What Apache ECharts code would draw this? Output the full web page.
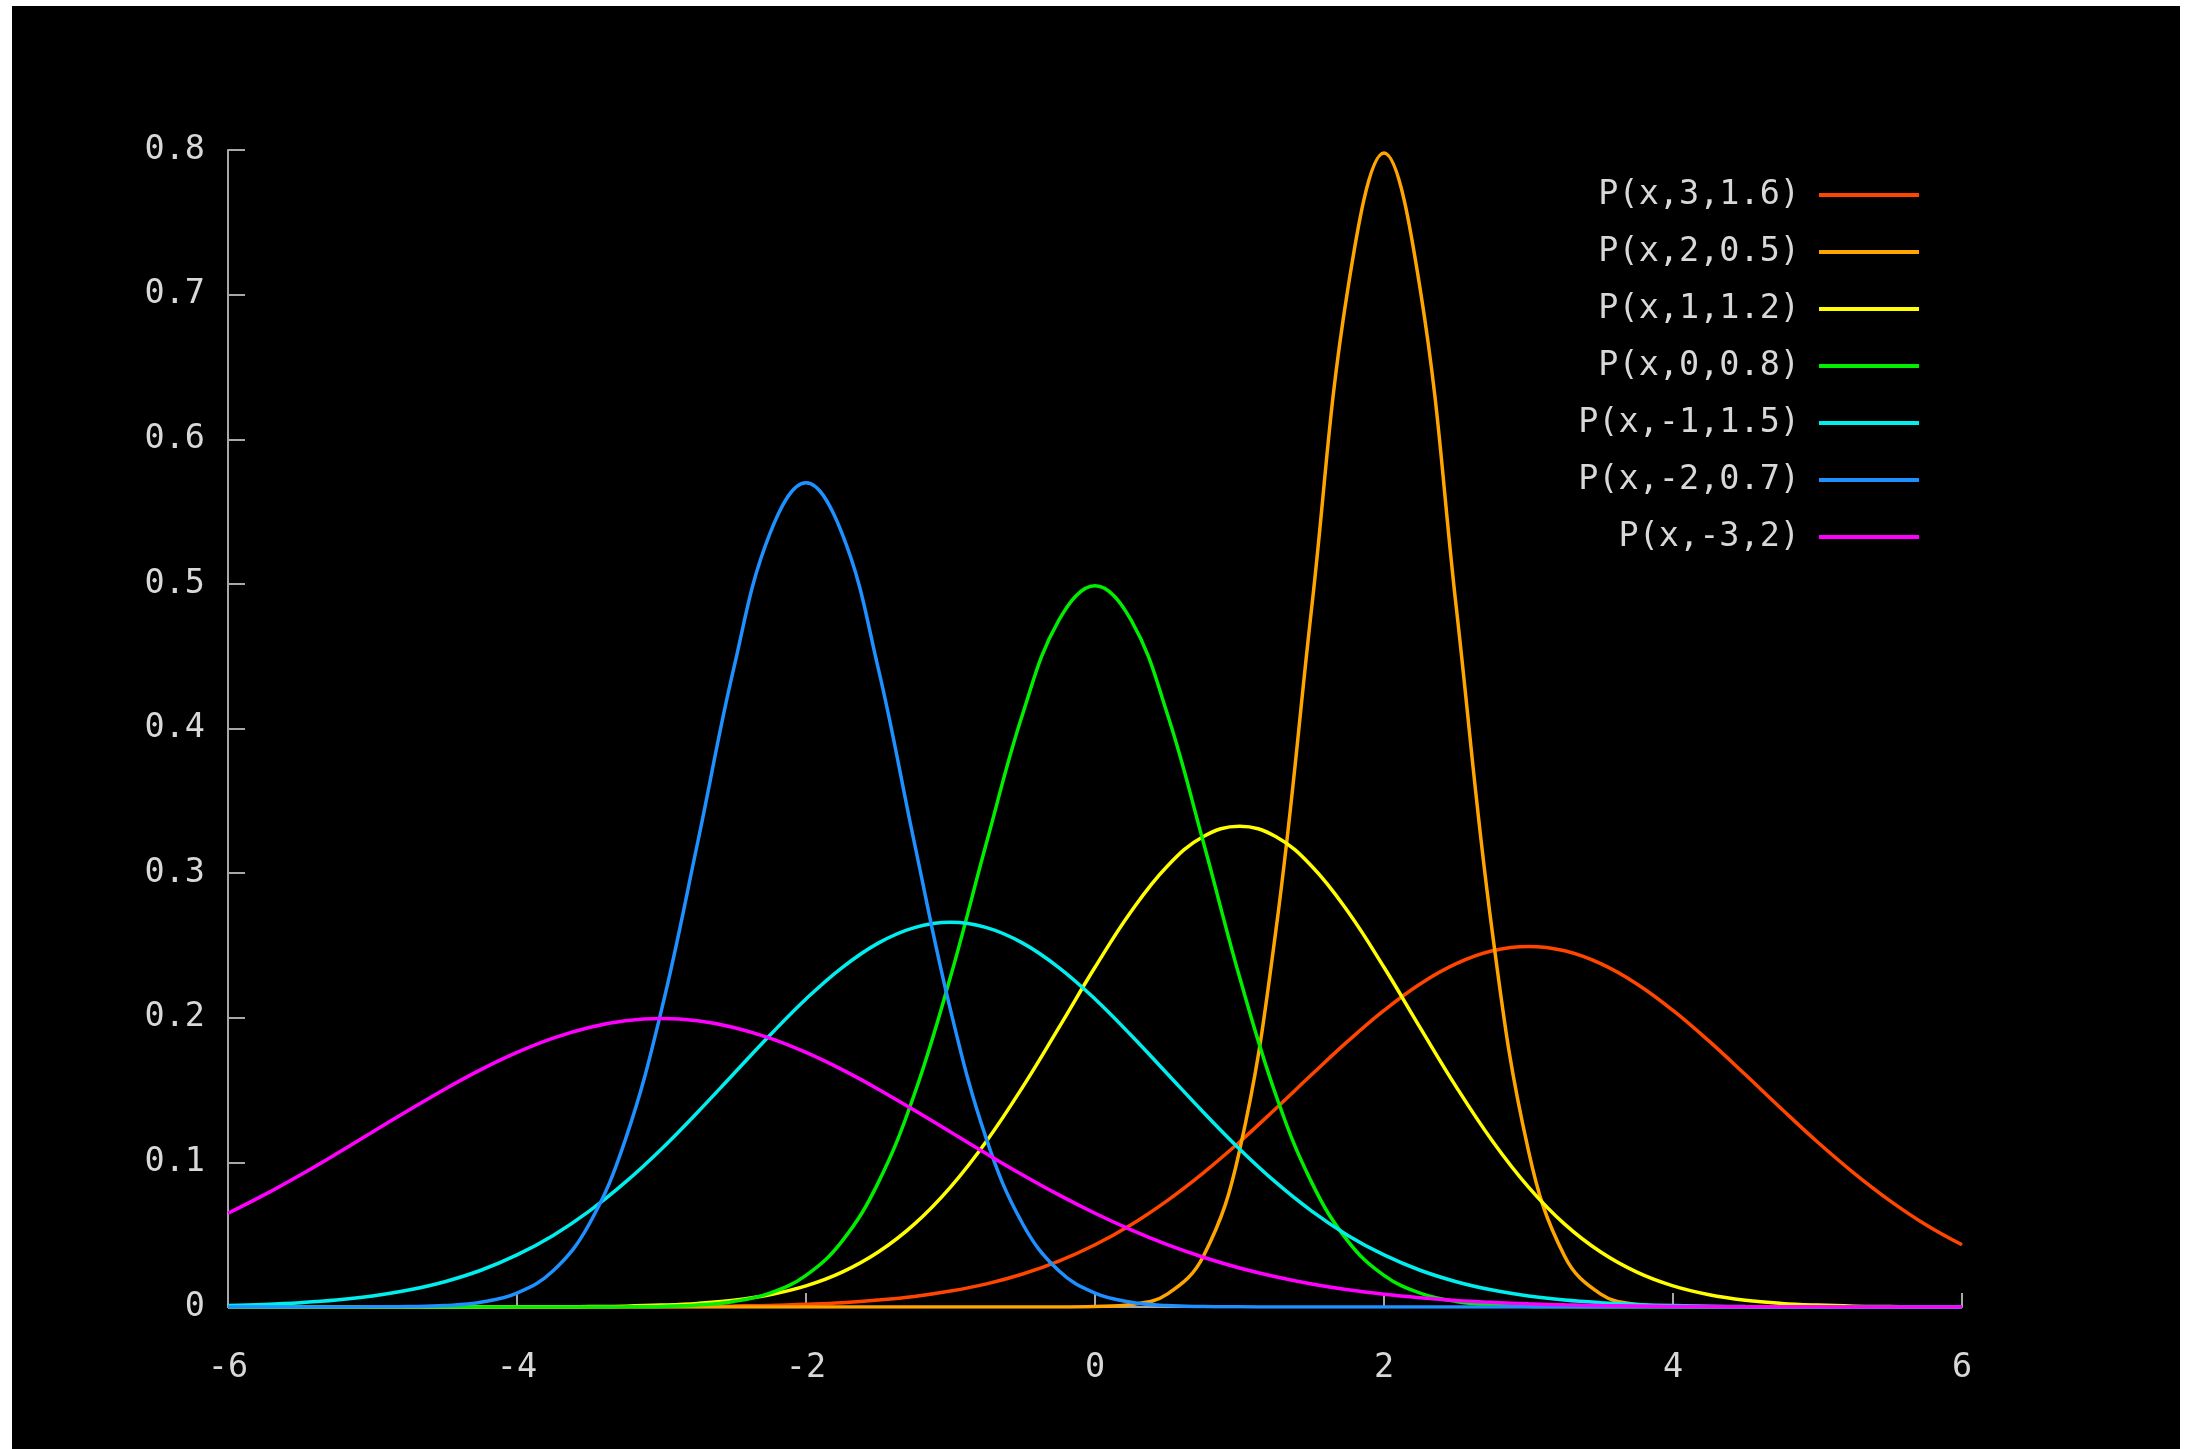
<!DOCTYPE html>
<html>
<head>
<meta charset="utf-8">
<script src="https://cdn.jsdelivr.net/npm/echarts@6/dist/echarts.min.js"></script>
<style>
  html, body { margin: 0; padding: 0; background: #ffffff; width: 2189px; height: 1449px; overflow: hidden; }
  #chart { position: absolute; left: 12px; top: 6px; width: 2168px; height: 1443px; background: #000000; }
</style>
</head>
<body>
<div id="chart"></div>
<script>
// x samples from -6 to 6, step 0.25
const xs = [-6,-5.75,-5.5,-5.25,-5,-4.75,-4.5,-4.25,-4,-3.75,-3.5,-3.25,-3,-2.75,-2.5,-2.25,-2,-1.75,-1.5,-1.25,-1,-0.75,-0.5,-0.25,0,0.25,0.5,0.75,1,1.25,1.5,1.75,2,2.25,2.5,2.75,3,3.25,3.5,3.75,4,4.25,4.5,4.75,5,5.25,5.5,5.75,6];

const names = ["P(x,3,1.6)", "P(x,2,0.5)", "P(x,1,1.2)", "P(x,0,0.8)", "P(x,-1,1.5)", "P(x,-2,0.7)", "P(x,-3,2)"];
const colors = ["#ff4500", "#ffa500", "#ffff00", "#00ee00", "#00eeee", "#1e90ff", "#ff00ff"];

const p_3_16 = [0,0,0,0,0,0,0,0,0,0,0.0001,0.0001,0.0002,0.0004,0.0007,0.0011,0.0019,0.0030,0.0048,0.0073,0.0110,0.0160,0.0228,0.0317,0.0430,0.0569,0.0736,0.0928,0.1141,0.1371,0.1607,0.1838,0.2051,0.2234,0.2374,0.2463,0.2493,0.2463,0.2374,0.2234,0.2051,0.1838,0.1607,0.1371,0.1141,0.0928,0.0736,0.0569,0.0430];
const p_2_05 = [0,0,0,0,0,0,0,0,0,0,0,0,0,0,0,0,0,0,0,0,0,0,0,0,0.0003,0.0017,0.0089,0.0351,0.1080,0.2590,0.4839,0.7041,0.7979,0.7041,0.4839,0.2590,0.1080,0.0351,0.0089,0.0017,0.0003,0,0,0,0,0,0,0,0];
const p_1_12 = [0,0,0,0,0,0,0,0,0.0001,0.0001,0.0003,0.0006,0.0013,0.0025,0.0047,0.0085,0.0146,0.0241,0.0380,0.0573,0.0829,0.1148,0.1522,0.1932,0.2349,0.2735,0.3048,0.3253,0.3324,0.3253,0.3048,0.2735,0.2349,0.1932,0.1522,0.1148,0.0829,0.0573,0.0380,0.0241,0.0146,0.0085,0.0047,0.0025,0.0013,0.0006,0.0003,0.0001,0.0001];
const p_0_08 = [0,0,0,0,0,0,0,0,0,0,0,0.0001,0.0004,0.0014,0.0038,0.0096,0.0219,0.0456,0.0860,0.1471,0.2283,0.3213,0.4102,0.4749,0.4987,0.4749,0.4102,0.3213,0.2283,0.1471,0.0860,0.0456,0.0219,0.0096,0.0038,0.0014,0.0004,0.0001,0,0,0,0,0,0,0,0,0,0,0];
const p_m1_15 = [0.0010,0.0018,0.0030,0.0048,0.0076,0.0117,0.0175,0.0254,0.0360,0.0495,0.0663,0.0863,0.1093,0.1347,0.1613,0.1879,0.2130,0.2347,0.2516,0.2623,0.2660,0.2623,0.2516,0.2347,0.2130,0.1879,0.1613,0.1347,0.1093,0.0863,0.0663,0.0495,0.0360,0.0254,0.0175,0.0117,0.0076,0.0048,0.0030,0.0018,0.0010,0.0006,0.0003,0.0002,0.0001,0,0,0,0];
const p_m2_07 = [0,0,0,0,0.0001,0.0003,0.0010,0.0033,0.0096,0.0250,0.0574,0.1157,0.2054,0.3210,0.4416,0.5347,0.5699,0.5347,0.4416,0.3210,0.2054,0.1157,0.0574,0.0250,0.0096,0.0033,0.0010,0.0003,0.0001,0,0,0,0,0,0,0,0,0,0,0,0,0,0,0,0,0,0,0,0];
const p_m3_2 = [0.0648,0.0775,0.0913,0.1059,0.1210,0.1360,0.1506,0.1641,0.1760,0.1859,0.1933,0.1979,0.1995,0.1979,0.1933,0.1859,0.1760,0.1641,0.1506,0.1360,0.1210,0.1059,0.0913,0.0775,0.0648,0.0533,0.0431,0.0344,0.0270,0.0209,0.0159,0.0119,0.0088,0.0064,0.0045,0.0032,0.0022,0.0015,0.0010,0.0007,0.0004,0.0003,0.0002,0.0001,0.0001,0,0,0,0];

const seriesValues = [p_3_16, p_2_05, p_1_12, p_0_08, p_m1_15, p_m2_07, p_m3_2];

const font = "'DejaVu Sans Mono', 'Liberation Mono', monospace";
const textColor = "#d8d8d8";
const axisColor = "#a8a8a8";

const chart = echarts.init(document.getElementById('chart'), null, { renderer: 'canvas' });

chart.setOption({
  backgroundColor: '#000000',
  animation: false,
  grid: { left: 216, right: 218, top: 144, bottom: 142, containLabel: false },
  legend: {
    orient: 'vertical',
    align: 'right',
    right: 261,
    top: 169,
    padding: 0,
    icon: 'rect',
    itemWidth: 100,
    itemHeight: 4,
    itemGap: 17,
    textStyle: { color: textColor, fontFamily: font, fontSize: 33.5, lineHeight: 40, padding: [0, 14, 0, 0] },
    data: names
  },
  xAxis: {
    type: 'value',
    min: -6, max: 6, interval: 2,
    axisLine: { show: true, onZero: false, lineStyle: { color: axisColor, width: 2 } },
    axisTick: { show: true, inside: true, length: 14, lineStyle: { color: axisColor, width: 2 } },
    axisLabel: { color: textColor, fontFamily: font, fontSize: 33.5, margin: 44 },
    splitLine: { show: false }
  },
  yAxis: {
    type: 'value',
    min: 0, max: 0.8, interval: 0.1,
    axisLine: { show: true, onZero: false, lineStyle: { color: axisColor, width: 2 } },
    axisTick: { show: true, inside: true, length: 17, lineStyle: { color: axisColor, width: 2 } },
    axisLabel: { color: textColor, fontFamily: font, fontSize: 33.5, margin: 23 },
    splitLine: { show: false }
  },
  series: names.map((n, k) => ({
    name: n,
    type: 'line',
    symbol: 'none',
    showSymbol: false,
    smooth: 0.4,
    color: colors[k],
    itemStyle: { color: colors[k] },
    lineStyle: { color: colors[k], width: 3.5 },
    data: xs.map((x, i) => [x, seriesValues[k][i]])
  }))
});
</script>
</body>
</html>
